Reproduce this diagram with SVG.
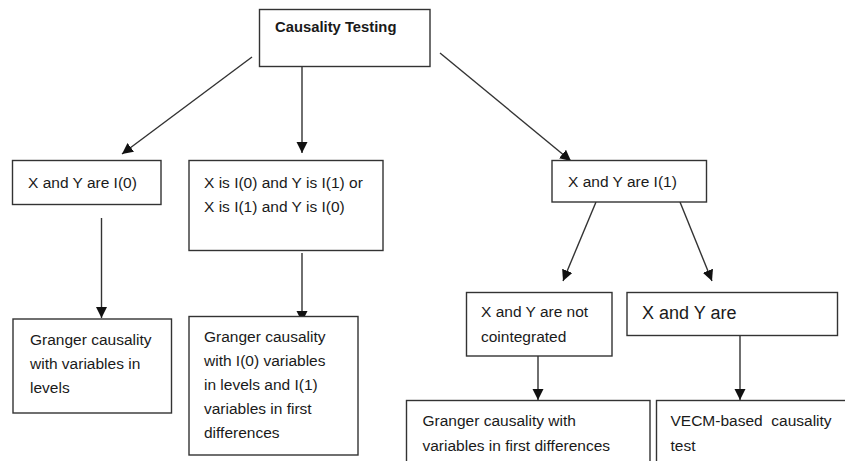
<svg xmlns="http://www.w3.org/2000/svg" width="845" height="461" viewBox="0 0 845 461">
<defs>
<marker id="ah" markerUnits="userSpaceOnUse" markerWidth="12" markerHeight="12" refX="11" refY="5.5" orient="auto">
<path d="M0,0 L11,5.5 L0,11 z" fill="#111"/>
</marker>
<style>
.box{fill:#fff;stroke:#333;stroke-width:1.4}
.t{font-family:"Liberation Sans",Arial,sans-serif;font-size:15.5px;fill:#1a1a1a}
.big{font-size:18px}
.b{font-weight:bold;font-size:14.8px}
.pre{white-space:pre}
.c{stroke:#333;stroke-width:1.4;fill:none;marker-end:url(#ah)}
</style>
</defs>
<rect width="845" height="461" fill="#fff"/>
<g id="connectors">
<line class="c" x1="252" y1="57" x2="122" y2="154"/>
<line class="c" x1="302" y1="67" x2="302" y2="153"/>
<line class="c" x1="440" y1="53" x2="571" y2="161"/>
<line class="c" x1="101.5" y1="218" x2="101.5" y2="318"/>
<line class="c" x1="302" y1="253" x2="302" y2="322"/>
<line class="c" x1="596" y1="202" x2="563" y2="281"/>
<line class="c" x1="680" y1="202" x2="712" y2="281"/>
<line class="c" x1="538" y1="356" x2="538" y2="400"/>
<line class="c" x1="740" y1="336" x2="740" y2="400"/>
</g>
<g id="n-root">
<rect class="box" x="259.5" y="9.5" width="170.5" height="57"/>
<text class="t b" x="275" y="32">Causality Testing</text>
</g>
<g id="n-i0">
<rect class="box" x="12.5" y="160.5" width="148.5" height="44"/>
<text class="t" x="28" y="188">X and Y are I(0)</text>
</g>
<g id="n-mixed">
<rect class="box" x="189" y="160.5" width="194" height="90"/>
<text class="t" x="204" y="188">X is I(0) and Y is I(1) or</text>
<text class="t" x="204" y="212">X is I(1) and Y is I(0)</text>
</g>
<g id="n-i1">
<rect class="box" x="552" y="160.5" width="154.5" height="41.5"/>
<text class="t" x="568" y="187">X and Y are I(1)</text>
</g>
<g id="n-levels">
<rect class="box" x="13" y="319" width="158.5" height="94"/>
<text class="t" x="30" y="345">Granger causality</text>
<text class="t" x="30" y="369">with variables in</text>
<text class="t" x="30" y="393">levels</text>
</g>
<g id="n-mixedtest">
<rect class="box" x="189" y="316.5" width="169" height="138.5"/>
<text class="t" x="204" y="342">Granger causality</text>
<text class="t" x="204" y="366">with I(0) variables</text>
<text class="t" x="204" y="390">in levels and I(1)</text>
<text class="t" x="204" y="414">variables in first</text>
<text class="t" x="204" y="438">differences</text>
</g>
<g id="n-notcoint">
<rect class="box" x="466.5" y="292.5" width="145.5" height="63.5"/>
<text class="t" x="481" y="317">X and Y are not</text>
<text class="t" x="481" y="342">cointegrated</text>
</g>
<g id="n-coint">
<rect class="box" x="627" y="292.5" width="210.5" height="43"/>
<text class="t big" x="642" y="319">X and Y are</text>
</g>
<g id="n-diff">
<rect class="box" x="406.5" y="400.5" width="243.5" height="70"/>
<text class="t" x="422.5" y="426">Granger causality with</text>
<text class="t" x="422.5" y="451">variables in first differences</text>
</g>
<g id="n-vecm">
<rect class="box" x="656.5" y="400.5" width="200" height="70"/>
<text class="t pre" x="670.5" y="426">VECM-based  causality</text>
<text class="t" x="670.5" y="451">test</text>
</g>
</svg>
